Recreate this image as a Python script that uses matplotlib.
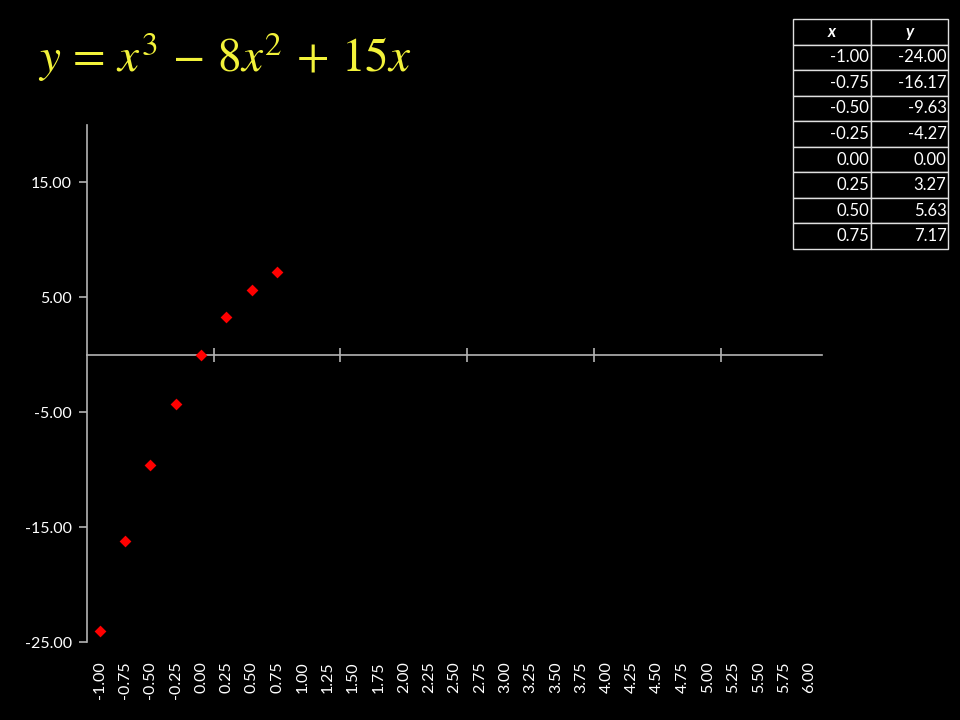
import matplotlib
matplotlib.use("Agg")
import matplotlib.pyplot as plt
import numpy as np

x_vals = [-1.00, -0.75, -0.50, -0.25, 0.00, 0.25, 0.50, 0.75]
y_vals = [-24.00, -16.17, -9.63, -4.27, 0.00, 3.27, 5.63, 7.17]

y_ticks = [-25, -15, -5, 5, 15]
x_labels = np.arange(-1.0, 6.01, 0.25)
axis_ticks = [-1.125 + 1.25 * k for k in range(1, 6)]

plt.rcParams['font.family'] = ['Lato', 'DejaVu Sans']
plt.rcParams['mathtext.fontset'] = 'stix'

fig = plt.figure(figsize=(9.6, 7.2), dpi=100, facecolor='black')
ax = fig.add_axes([87/960, 78/720, 735/960, 517/720], facecolor='black')

ax.scatter(x_vals, y_vals, marker='D', s=36, color='#ff0000', linewidth=0, zorder=3)

ax.set_xlim(-1.125, 6.125)
ax.set_ylim(-25, 20)

axcol = '#b4b4b4'
ax.spines['top'].set_visible(False)
ax.spines['right'].set_visible(False)
ax.spines['left'].set_color(axcol)
ax.spines['bottom'].set_color(axcol)
ax.spines['left'].set_linewidth(1.2)
ax.spines['bottom'].set_linewidth(1.2)
ax.spines['bottom'].set_position(('data', 0))

ax.set_yticks(y_ticks)
ax.set_yticklabels(['%.2f' % v for v in y_ticks])
ax.tick_params(axis='y', colors=axcol, labelcolor='white', labelsize=11.5,
               length=6, width=1.2, direction='out', pad=5)

ax.set_xticks(axis_ticks)
ax.tick_params(axis='x', colors=axcol, length=10, width=1.2,
               direction='inout', labelbottom=False)

sec = ax.secondary_xaxis(0.0)
sec.set_xticks(x_labels)
sec.set_xticklabels(['%.2f' % v for v in x_labels], rotation=90)
sec.tick_params(axis='x', length=0, labelcolor='white', labelsize=11.5, pad=14)
sec.spines['bottom'].set_visible(False)

fig.text(0.04, 0.9, r'$y\,=\,x^3\,-\,8x^2\,+\,15x$', fontsize=34, color='#f2f23a')

# table in the top right
tax = fig.add_axes([793/960, 471/720, 155/960, 230/720])
tax.axis('off')
cells = [['%.2f' % a, '%.2f' % b] for a, b in zip(x_vals, y_vals)]
tbl = tax.table(cellText=cells, colLabels=['x', 'y'], bbox=[0, 0, 1, 1],
                cellLoc='right')
tbl.auto_set_font_size(False)
tbl.set_fontsize(12)
for (r, c), cell in tbl.get_celld().items():
    cell.set_facecolor('black')
    cell.set_edgecolor('#e0e0e0')
    cell.set_linewidth(1)
    cell.get_text().set_color('white')
    cell.PAD = 0.02
    if r == 0:
        cell.get_text().set_fontweight('bold')
        cell.get_text().set_fontstyle('italic')
        cell.get_text().set_ha('center')
        cell._loc = 'center'

fig.savefig('out.png', dpi=100, facecolor='black')
